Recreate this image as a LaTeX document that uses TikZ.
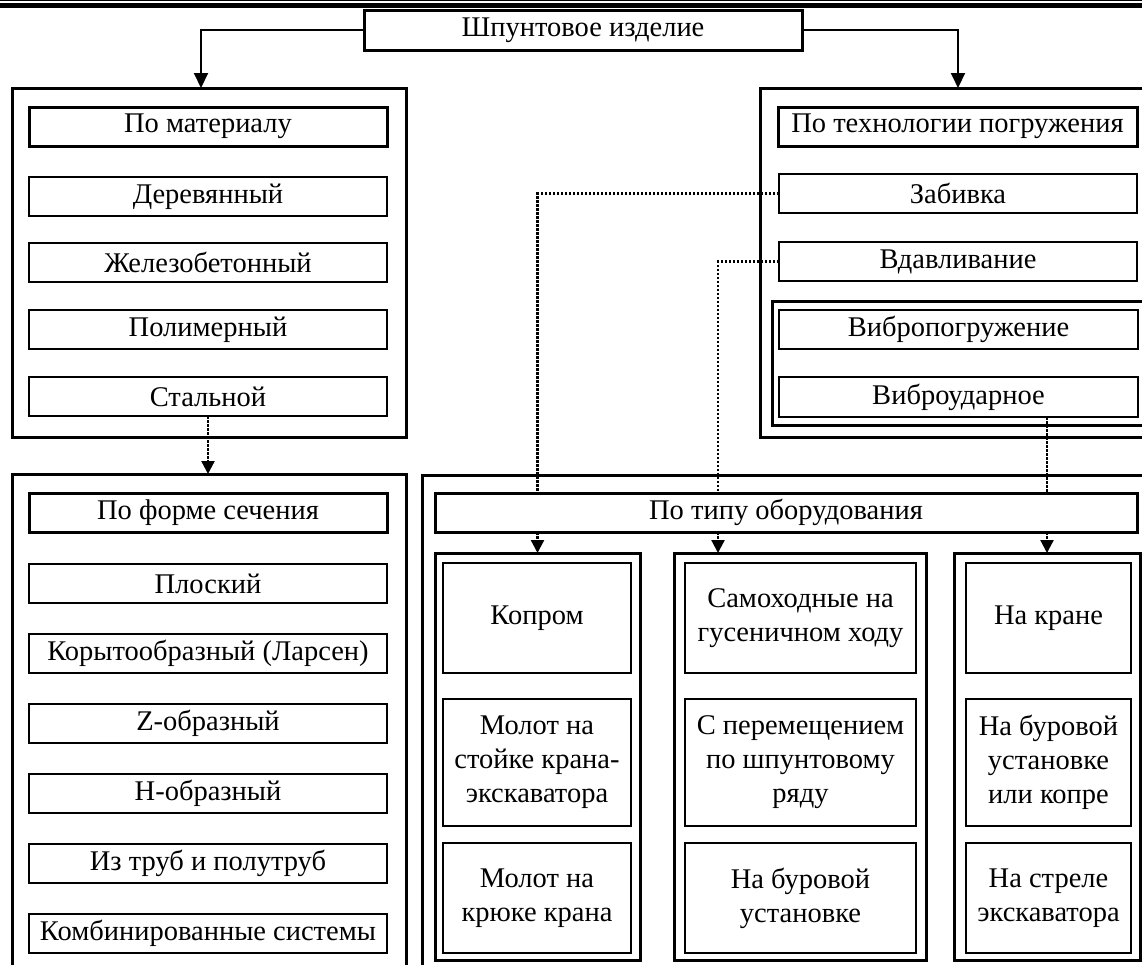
\documentclass[tikz,border=0pt]{standalone}
\usepackage{fontspec}
\setmainfont{Liberation Serif}
\usetikzlibrary{arrows.meta}
\begin{document}
\begin{tikzpicture}[x=1pt,y=-1pt,
  every node/.style={font=\fontsize{28.5}{34}\selectfont, inner sep=0pt, outer sep=0pt, align=center},
  panel/.style={draw, line width=3pt, fill=white},
  headbox/.style={draw, line width=3pt, fill=white, minimum height=39},
  itembox/.style={draw, line width=1.5pt, fill=white},
  solidarrow/.style={line width=2pt, -{Triangle[length=15pt,width=14pt]}},
  dotline/.style={line width=2.3pt, dash pattern=on 2.5pt off 1.5pt},
  dotarrow/.style={dotline, -{Triangle[length=13pt,width=13pt]}}
]
\useasboundingbox (0,0) rectangle (1142,964);
\clip (0,0) rectangle (1142,964);
\fill[white] (0,0) rectangle (1142,964);

% top rules
\draw[line width=1pt] (0,0.5) -- (1142,0.5);
\draw[line width=5pt] (0,5.8) -- (1142,5.8);

% top node
\node[headbox, minimum width=438, minimum height=40] (top) at (583,30) {Шпунтовое изделие};

% left top panel
\node[panel, minimum width=394, minimum height=349] (lt) at (209,262.5) {};
\node[headbox, minimum width=358] (lth) at (208,126.5) {По материалу};
\node[itembox, minimum width=358, minimum height=39] (der) at (208,196.5) {Деревянный};
\node[itembox, minimum width=358, minimum height=39] (zhb) at (208,262.5) {Железобетонный};
\node[itembox, minimum width=358, minimum height=39] (pol) at (208,329.5) {Полимерный};
\node[itembox, minimum width=358, minimum height=39] (stal) at (208,396.5) {Стальной};

% right top panel
\node[panel, minimum width=400, minimum height=349] (rt) at (960,262.5) {};
\node[headbox, minimum width=359] (rth) at (957.5,126.5) {По технологии погружения};
\node[itembox, minimum width=358, minimum height=39] (zab) at (958,193.5) {Забивка};
\node[itembox, minimum width=358, minimum height=39] (vdav) at (958,261.5) {Вдавливание};
\node[panel, minimum width=388, minimum height=124] (vib) at (966,363) {};
\node[itembox, minimum width=359, minimum height=39] (vpg) at (958.5,329.5) {Вибропогружение};
\node[itembox, minimum width=359, minimum height=40] (vud) at (958.5,397) {Виброударное};

% left bottom panel
\node[panel, minimum width=394, minimum height=526] (lb) at (209,737) {};
\node[headbox, minimum width=358] (lbh) at (208,512.5) {По форме сечения};
\node[itembox, minimum width=358, minimum height=39] (plo) at (208,583.5) {Плоский};
\node[itembox, minimum width=358, minimum height=39] (kor) at (208,653.5) {Корытообразный (Ларсен)};
\node[itembox, minimum width=358, minimum height=39] (zob) at (208,723.5) {Z-образный};
\node[itembox, minimum width=358, minimum height=39] (hob) at (208,793.5) {H-образный};
\node[itembox, minimum width=358, minimum height=39] (trub) at (208,863.5) {Из труб и полутруб};
\node[itembox, minimum width=358, minimum height=39] (komb) at (208,933.5) {Комбинированные системы};

% right bottom panel
\node[panel, minimum width=738, minimum height=525] (rb) at (791,737.5) {};
\node[headbox, minimum width=702] (rbh) at (786,512.5) {По типу оборудования};
\node[panel, minimum width=205, minimum height=407] (col1) at (537.5,756.5) {};
\node[panel, minimum width=252, minimum height=407] (col2) at (800,756.5) {};
\node[panel, minimum width=186, minimum height=407] (col3) at (1047,756.5) {};

\node[itembox, minimum width=188, minimum height=110] (a1) at (537,618) {Копром};
\node[itembox, minimum width=188, minimum height=127] (a2) at (537,762.5) {Молот на\\стойке крана-\\экскаватора};
\node[itembox, minimum width=188, minimum height=110] (a3) at (537,898) {Молот на\\крюке крана};

\node[itembox, minimum width=231, minimum height=110] (b1) at (800.5,618) {Самоходные на\\гусеничном ходу};
\node[itembox, minimum width=231, minimum height=127] (b2) at (800.5,762.5) {С перемещением\\по шпунтовому\\ряду};
\node[itembox, minimum width=231, minimum height=110] (b3) at (800.5,898) {На буровой\\установке};

\node[itembox, minimum width=165, minimum height=110] (c1) at (1048.5,618) {На кране};
\node[itembox, minimum width=165, minimum height=127] (c2) at (1048.5,762.5) {На буровой\\установке\\или копре};
\node[itembox, minimum width=165, minimum height=110] (c3) at (1048.5,898) {На стреле\\экскаватора};

% connectors
\draw[solidarrow] (top.west) -| ([xshift=-8pt]lt.north);
\draw[solidarrow] (top.east) -| ([xshift=-2pt]rt.north);
\draw[dotarrow] (stal.south) -- (stal.south |- lb.north);

\coordinate (c2x) at (718,540);
\draw[dotline] (zab.west) -| (col1.north |- rbh.north);
\draw[dotarrow] (col1.north |- rbh.south) -- (col1.north);
\draw[dotline] (vdav.west) -| (c2x |- rbh.north);
\draw[dotarrow] (c2x |- rbh.south) -- (c2x |- col2.north);
\draw[dotline] (col3.north |- vud.south) -- (col3.north |- rbh.north);
\draw[dotarrow] (col3.north |- rbh.south) -- (col3.north);
\end{tikzpicture}
\end{document}
